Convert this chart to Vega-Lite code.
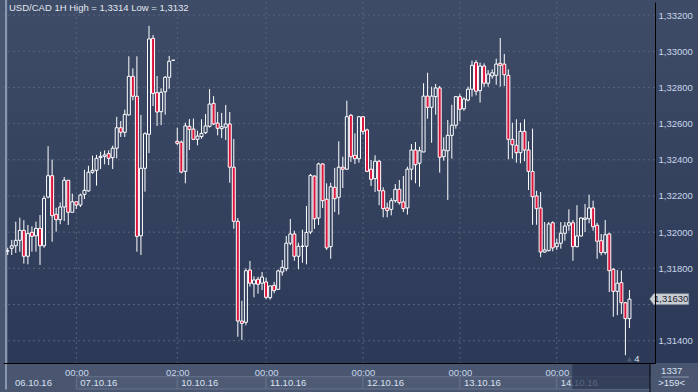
{
  "$schema": "https://vega.github.io/schema/vega-lite/v6.json",
  "width": 652,
  "height": 361,
  "autosize": {"type": "none"},
  "padding": {"left": 3, "top": 2, "right": 43, "bottom": 29},
  "background": "#4a5670",
  "datasets": {
    "candles": [
      {"i":1,"o":1.31896,"h":1.31914,"l":1.31874,"c":1.31896},
      {"i":2,"o":1.31911,"h":1.31957,"l":1.31874,"c":1.31925},
      {"i":3,"o":1.31925,"h":1.32058,"l":1.31885,"c":1.31955},
      {"i":4,"o":1.31955,"h":1.32080,"l":1.31892,"c":1.32010},
      {"i":5,"o":1.32010,"h":1.32066,"l":1.31826,"c":1.31867},
      {"i":6,"o":1.31867,"h":1.32040,"l":1.31822,"c":1.31992},
      {"i":7,"o":1.31999,"h":1.32032,"l":1.31892,"c":1.31977},
      {"i":8,"o":1.31980,"h":1.32058,"l":1.31892,"c":1.32021},
      {"i":9,"o":1.32021,"h":1.32095,"l":1.31819,"c":1.31925},
      {"i":10,"o":1.31925,"h":1.32202,"l":1.31914,"c":1.32187},
      {"i":11,"o":1.32194,"h":1.32475,"l":1.32187,"c":1.32312},
      {"i":12,"o":1.32312,"h":1.32401,"l":1.31947,"c":1.32091},
      {"i":13,"o":1.32099,"h":1.32135,"l":1.32003,"c":1.32069},
      {"i":14,"o":1.32069,"h":1.32165,"l":1.32044,"c":1.32139},
      {"i":15,"o":1.32139,"h":1.32305,"l":1.32062,"c":1.32287},
      {"i":16,"o":1.32287,"h":1.32287,"l":1.32040,"c":1.32110},
      {"i":17,"o":1.32110,"h":1.32213,"l":1.32110,"c":1.32168},
      {"i":18,"o":1.32168,"h":1.32168,"l":1.32128,"c":1.32150},
      {"i":19,"o":1.32150,"h":1.32213,"l":1.32139,"c":1.32205},
      {"i":20,"o":1.32209,"h":1.32345,"l":1.32183,"c":1.32231},
      {"i":21,"o":1.32228,"h":1.32367,"l":1.32224,"c":1.32331},
      {"i":22,"o":1.32331,"h":1.32423,"l":1.32323,"c":1.32342},
      {"i":23,"o":1.32342,"h":1.32427,"l":1.32257,"c":1.32408},
      {"i":24,"o":1.32412,"h":1.32445,"l":1.32349,"c":1.32419},
      {"i":25,"o":1.32419,"h":1.32452,"l":1.32375,"c":1.32427},
      {"i":26,"o":1.32434,"h":1.32452,"l":1.32371,"c":1.32408},
      {"i":27,"o":1.32412,"h":1.32478,"l":1.32349,"c":1.32464},
      {"i":28,"o":1.32464,"h":1.32637,"l":1.32408,"c":1.32577},
      {"i":29,"o":1.32577,"h":1.32614,"l":1.32526,"c":1.32552},
      {"i":30,"o":1.32552,"h":1.32677,"l":1.32526,"c":1.32651},
      {"i":31,"o":1.32648,"h":1.32972,"l":1.32644,"c":1.32861},
      {"i":32,"o":1.32861,"h":1.32906,"l":1.32729,"c":1.32751},
      {"i":33,"o":1.32751,"h":1.32972,"l":1.31892,"c":1.31977},
      {"i":34,"o":1.31980,"h":1.32648,"l":1.31874,"c":1.32353},
      {"i":35,"o":1.32353,"h":1.32552,"l":1.32224,"c":1.32544},
      {"i":36,"o":1.32541,"h":1.33140,"l":1.32437,"c":1.33068},
      {"i":37,"o":1.33071,"h":1.33090,"l":1.32697,"c":1.32767},
      {"i":38,"o":1.32771,"h":1.32863,"l":1.32587,"c":1.32664},
      {"i":39,"o":1.32666,"h":1.32795,"l":1.32592,"c":1.32773},
      {"i":40,"o":1.32776,"h":1.32863,"l":1.32649,"c":1.32856},
      {"i":41,"o":1.32856,"h":1.32974,"l":1.32793,"c":1.32944},
      {"i":42,"o":1.32950,"h":1.32950,"l":1.32950,"c":1.32950},
      {"i":43,"o":1.32502,"h":1.32577,"l":1.32480,"c":1.32491},
      {"i":44,"o":1.32498,"h":1.32506,"l":1.32325,"c":1.32332},
      {"i":45,"o":1.32336,"h":1.32605,"l":1.32270,"c":1.32587},
      {"i":46,"o":1.32585,"h":1.32625,"l":1.32454,"c":1.32568},
      {"i":47,"o":1.32570,"h":1.32628,"l":1.32509,"c":1.32513},
      {"i":48,"o":1.32513,"h":1.32561,"l":1.32480,"c":1.32531},
      {"i":49,"o":1.32528,"h":1.32624,"l":1.32516,"c":1.32546},
      {"i":50,"o":1.32550,"h":1.32653,"l":1.32542,"c":1.32587},
      {"i":51,"o":1.32585,"h":1.32791,"l":1.32578,"c":1.32708},
      {"i":52,"o":1.32712,"h":1.32752,"l":1.32592,"c":1.32598},
      {"i":53,"o":1.32603,"h":1.32664,"l":1.32535,"c":1.32574},
      {"i":54,"o":1.32572,"h":1.32659,"l":1.32520,"c":1.32583},
      {"i":55,"o":1.32580,"h":1.32703,"l":1.32509,"c":1.32598},
      {"i":56,"o":1.32598,"h":1.32664,"l":1.32273,"c":1.32359},
      {"i":57,"o":1.32359,"h":1.32515,"l":1.32019,"c":1.32060},
      {"i":58,"o":1.32060,"h":1.32078,"l":1.31422,"c":1.31509},
      {"i":59,"o":1.31509,"h":1.31621,"l":1.31404,"c":1.31496},
      {"i":60,"o":1.31502,"h":1.31800,"l":1.31485,"c":1.31787},
      {"i":61,"o":1.31791,"h":1.31841,"l":1.31699,"c":1.31718},
      {"i":62,"o":1.31714,"h":1.31756,"l":1.31640,"c":1.31736},
      {"i":63,"o":1.31740,"h":1.31754,"l":1.31660,"c":1.31712},
      {"i":64,"o":1.31718,"h":1.31780,"l":1.31680,"c":1.31752},
      {"i":65,"o":1.31725,"h":1.31748,"l":1.31629,"c":1.31640},
      {"i":66,"o":1.31638,"h":1.31703,"l":1.31627,"c":1.31703},
      {"i":67,"o":1.31706,"h":1.31725,"l":1.31662,"c":1.31677},
      {"i":68,"o":1.31684,"h":1.31793,"l":1.31682,"c":1.31786},
      {"i":69,"o":1.31780,"h":1.31846,"l":1.31760,"c":1.31806},
      {"i":70,"o":1.31798,"h":1.31979,"l":1.31784,"c":1.31939},
      {"i":71,"o":1.31939,"h":1.32073,"l":1.31928,"c":1.31990},
      {"i":72,"o":1.31990,"h":1.32008,"l":1.31842,"c":1.31867},
      {"i":73,"o":1.31867,"h":1.31942,"l":1.31795,"c":1.31922},
      {"i":74,"o":1.31922,"h":1.32014,"l":1.31831,"c":1.31922},
      {"i":75,"o":1.31922,"h":1.32145,"l":1.31822,"c":1.31999},
      {"i":76,"o":1.32001,"h":1.32322,"l":1.31990,"c":1.32314},
      {"i":77,"o":1.32310,"h":1.32314,"l":1.32018,"c":1.32074},
      {"i":78,"o":1.32078,"h":1.32384,"l":1.32040,"c":1.32377},
      {"i":79,"o":1.32377,"h":1.32381,"l":1.32134,"c":1.32174},
      {"i":80,"o":1.32182,"h":1.32270,"l":1.31902,"c":1.31913},
      {"i":81,"o":1.31920,"h":1.32273,"l":1.31853,"c":1.32251},
      {"i":82,"o":1.32248,"h":1.32355,"l":1.32111,"c":1.32185},
      {"i":83,"o":1.32193,"h":1.32502,"l":1.32097,"c":1.32359},
      {"i":84,"o":1.32359,"h":1.32417,"l":1.32244,"c":1.32348},
      {"i":85,"o":1.32348,"h":1.32727,"l":1.32344,"c":1.32638},
      {"i":86,"o":1.32646,"h":1.32653,"l":1.32388,"c":1.32417},
      {"i":87,"o":1.32425,"h":1.32546,"l":1.32377,"c":1.32406},
      {"i":88,"o":1.32406,"h":1.32642,"l":1.32384,"c":1.32638},
      {"i":89,"o":1.32638,"h":1.32642,"l":1.32539,"c":1.32557},
      {"i":90,"o":1.32565,"h":1.32572,"l":1.32332,"c":1.32336},
      {"i":91,"o":1.32348,"h":1.32399,"l":1.32255,"c":1.32292},
      {"i":92,"o":1.32296,"h":1.32425,"l":1.32222,"c":1.32392},
      {"i":93,"o":1.32392,"h":1.32399,"l":1.32149,"c":1.32229},
      {"i":94,"o":1.32229,"h":1.32248,"l":1.32082,"c":1.32130},
      {"i":95,"o":1.32134,"h":1.32163,"l":1.32082,"c":1.32119},
      {"i":96,"o":1.32126,"h":1.32189,"l":1.32093,"c":1.32174},
      {"i":97,"o":1.32174,"h":1.32266,"l":1.32163,"c":1.32237},
      {"i":98,"o":1.32237,"h":1.32288,"l":1.32152,"c":1.32163},
      {"i":99,"o":1.32167,"h":1.32310,"l":1.32111,"c":1.32130},
      {"i":100,"o":1.32134,"h":1.32362,"l":1.32097,"c":1.32348},
      {"i":101,"o":1.32348,"h":1.32487,"l":1.32288,"c":1.32454},
      {"i":102,"o":1.32454,"h":1.32498,"l":1.32270,"c":1.32373},
      {"i":103,"o":1.32381,"h":1.32472,"l":1.32251,"c":1.32450},
      {"i":104,"o":1.32443,"h":1.32823,"l":1.32443,"c":1.32752},
      {"i":105,"o":1.32752,"h":1.32881,"l":1.32627,"c":1.32690},
      {"i":106,"o":1.32690,"h":1.32804,"l":1.32494,"c":1.32752},
      {"i":107,"o":1.32749,"h":1.32819,"l":1.32649,"c":1.32797},
      {"i":108,"o":1.32797,"h":1.32808,"l":1.32329,"c":1.32414},
      {"i":109,"o":1.32417,"h":1.32524,"l":1.32395,"c":1.32454},
      {"i":110,"o":1.32450,"h":1.32620,"l":1.32178,"c":1.32535},
      {"i":111,"o":1.32535,"h":1.32704,"l":1.32406,"c":1.32591},
      {"i":112,"o":1.32591,"h":1.32752,"l":1.32572,"c":1.32749},
      {"i":113,"o":1.32749,"h":1.32764,"l":1.32613,"c":1.32679},
      {"i":114,"o":1.32682,"h":1.32745,"l":1.32671,"c":1.32736},
      {"i":115,"o":1.32730,"h":1.32804,"l":1.32723,"c":1.32790},
      {"i":116,"o":1.32790,"h":1.32948,"l":1.32749,"c":1.32922},
      {"i":117,"o":1.32937,"h":1.32951,"l":1.32756,"c":1.32779},
      {"i":118,"o":1.32782,"h":1.32937,"l":1.32716,"c":1.32918},
      {"i":119,"o":1.32918,"h":1.32933,"l":1.32804,"c":1.32823},
      {"i":120,"o":1.32823,"h":1.32896,"l":1.32804,"c":1.32874},
      {"i":121,"o":1.32863,"h":1.32900,"l":1.32848,"c":1.32881},
      {"i":122,"o":1.32867,"h":1.32959,"l":1.32815,"c":1.32929},
      {"i":123,"o":1.32933,"h":1.33073,"l":1.32804,"c":1.32922},
      {"i":124,"o":1.32929,"h":1.32985,"l":1.32808,"c":1.32870},
      {"i":125,"o":1.32867,"h":1.32900,"l":1.32403,"c":1.32513},
      {"i":126,"o":1.32513,"h":1.32605,"l":1.32406,"c":1.32483},
      {"i":127,"o":1.32480,"h":1.32624,"l":1.32384,"c":1.32439},
      {"i":128,"o":1.32439,"h":1.32605,"l":1.32381,"c":1.32557},
      {"i":129,"o":1.32557,"h":1.32624,"l":1.32392,"c":1.32454},
      {"i":130,"o":1.32454,"h":1.32502,"l":1.32233,"c":1.32336},
      {"i":131,"o":1.32336,"h":1.32572,"l":1.32041,"c":1.32196},
      {"i":132,"o":1.32200,"h":1.32229,"l":1.32041,"c":1.32130},
      {"i":133,"o":1.32134,"h":1.32222,"l":1.31861,"c":1.31890},
      {"i":134,"o":1.31890,"h":1.32056,"l":1.31887,"c":1.31902},
      {"i":135,"o":1.31898,"h":1.32056,"l":1.31894,"c":1.32045},
      {"i":136,"o":1.32052,"h":1.32060,"l":1.31894,"c":1.31913},
      {"i":137,"o":1.31920,"h":1.31964,"l":1.31902,"c":1.31939},
      {"i":138,"o":1.31939,"h":1.32056,"l":1.31909,"c":1.31994},
      {"i":139,"o":1.31994,"h":1.32056,"l":1.31953,"c":1.32034},
      {"i":140,"o":1.32038,"h":1.32126,"l":1.32008,"c":1.32052},
      {"i":141,"o":1.32052,"h":1.32067,"l":1.31842,"c":1.31920},
      {"i":142,"o":1.31920,"h":1.32149,"l":1.31916,"c":1.31979},
      {"i":143,"o":1.31979,"h":1.32082,"l":1.31975,"c":1.32078},
      {"i":144,"o":1.32071,"h":1.32156,"l":1.32001,"c":1.32078},
      {"i":145,"o":1.32074,"h":1.32207,"l":1.32049,"c":1.32134},
      {"i":146,"o":1.32134,"h":1.32174,"l":1.32008,"c":1.32030},
      {"i":147,"o":1.32038,"h":1.32052,"l":1.31853,"c":1.31950},
      {"i":148,"o":1.31953,"h":1.31990,"l":1.31872,"c":1.31887},
      {"i":149,"o":1.31887,"h":1.32067,"l":1.31876,"c":1.31986},
      {"i":150,"o":1.31990,"h":1.31997,"l":1.31669,"c":1.31787},
      {"i":151,"o":1.31795,"h":1.31802,"l":1.31533,"c":1.31673},
      {"i":152,"o":1.31673,"h":1.31791,"l":1.31541,"c":1.31718},
      {"i":153,"o":1.31721,"h":1.31787,"l":1.31548,"c":1.31610},
      {"i":154,"o":1.31610,"h":1.31614,"l":1.31320,"c":1.31522},
      {"i":155,"o":1.31522,"h":1.31680,"l":1.31470,"c":1.31630}
    ],
    "ygrid": [{"v":1.314},{"v":1.316},{"v":1.318},{"v":1.320},{"v":1.322},{"v":1.324},{"v":1.326},{"v":1.328},{"v":1.330},{"v":1.332}],
    "xgrid": [{"i":18},{"i":43},{"i":65},{"i":89},{"i":113},{"i":137}],
    "days": [
      {"d":"06.10.16","s":1.8,"e":18},
      {"d":"07.10.16","s":18,"e":43},
      {"d":"10.10.16","s":43,"e":65},
      {"d":"11.10.16","s":65,"e":89},
      {"d":"12.10.16","s":89,"e":113},
      {"d":"13.10.16","s":113,"e":137},
      {"d":"14.10.16","s":137,"e":160.09}
    ],
    "tag": [{"p":1.3163,"t":"1,31630"}],
    "one": [{}]
  },
  "layer": [
    {
      "data": {"name": "one"},
      "mark": {"type": "rect", "color": {"gradient": "linear", "x1": 0, "y1": 0, "x2": 0, "y2": 1, "stops": [{"offset": 0, "color": "#3f4c67"}, {"offset": 1, "color": "#2c3957"}]}},
      "encoding": {
        "x": {"datum": 1.073, "type": "quantitative", "scale": {"domain": [1.073, 160.09], "nice": false, "zero": false},
          "axis": {"values": [18, 43, 65, 89, 113, 137], "labelExpr": "datum.value == 43 ? '02:00' : '00:00'", "grid": false, "ticks": false, "domain": true, "domainColor": "#000000", "domainWidth": 1, "labelColor": "#c8d6ec", "labelFont": "Liberation Sans", "labelFontSize": 9.5, "labelPadding": 4, "labelBaseline": "top", "labelFlush": false, "labelOverlap": false, "title": null, "zindex": 1}},
        "x2": {"datum": 176},
        "y": {"datum": 1.31277, "type": "quantitative", "scale": {"domain": [1.31277, 1.33272], "nice": false, "zero": false},
          "axis": {"orient": "right", "values": [1.314, 1.316, 1.318, 1.32, 1.322, 1.324, 1.326, 1.328, 1.33, 1.332], "labelExpr": "abs(datum.value - 1.316) < 0.0001 ? '' : replace(format(datum.value, '.5f'), '.', ',')", "grid": false, "ticks": false, "domain": true, "domainColor": "#000000", "domainWidth": 1, "labelColor": "#c8d6ec", "labelFont": "Liberation Sans", "labelFontSize": 9.5, "labelPadding": 3, "labelAlign": "left", "labelBaseline": "middle", "labelFlush": false, "labelOverlap": false, "title": null, "zindex": 1}},
        "y2": {"datum": 1.3331}
      }
    },
    {
      "data": {"name": "one"},
      "mark": {"type": "rect", "color": "#8a99b2"},
      "encoding": {
        "x": {"datum": 0.34, "type": "quantitative", "scale": {"domain": [1.073, 160.09], "nice": false, "zero": false}},
        "x2": {"datum": 0.83},
        "y": {"datum": 1.3113, "type": "quantitative", "scale": {"domain": [1.31277, 1.33272], "nice": false, "zero": false}},
        "y2": {"datum": 1.3331}
      }
    },
    {
      "data": {"name": "ygrid"},
      "mark": {"type": "rule", "color": "#56637e", "strokeWidth": 1, "strokeDash": [2, 3]},
      "encoding": {
        "y": {"field": "v", "type": "quantitative", "title": null, "scale": {"domain": [1.31277, 1.33272], "nice": false, "zero": false}}
      }
    },
    {
      "data": {"name": "xgrid"},
      "mark": {"type": "rule", "color": "#56637e", "strokeWidth": 1, "strokeDash": [2, 3]},
      "encoding": {
        "x": {"field": "i", "type": "quantitative", "title": null, "scale": {"domain": [1.073, 160.09], "nice": false, "zero": false}}
      }
    },
    {
      "data": {"name": "days"},
      "transform": [{"filter": "datum.s > 2"}],
      "mark": {"type": "rect", "fill": "#4f5b75", "stroke": "#66728b", "strokeWidth": 1},
      "encoding": {
        "x": {"field": "s", "type": "quantitative", "title": null, "scale": {"domain": [1.073, 160.09], "nice": false, "zero": false}},
        "x2": {"field": "e", "offset": -4},
        "y": {"datum": 1.312012, "type": "quantitative", "scale": {"domain": [1.31277, 1.33272], "nice": false, "zero": false}},
        "y2": {"datum": 1.311332}
      }
    },
    {
      "data": {"name": "days"},
      "mark": {"type": "text", "align": "left", "baseline": "middle", "dx": 4, "fontSize": 9.5, "font": "Liberation Sans", "color": "#d8e2f0"},
      "encoding": {
        "x": {"field": "s", "type": "quantitative", "title": null, "scale": {"domain": [1.073, 160.09], "nice": false, "zero": false}},
        "y": {"datum": 1.311691, "type": "quantitative", "scale": {"domain": [1.31277, 1.33272], "nice": false, "zero": false}},
        "text": {"field": "d"}
      }
    },
    {
      "data": {"name": "one"},
      "mark": {"type": "rect", "color": "#2a3450", "opacity": 0.72},
      "encoding": {
        "x": {"datum": 140.83, "type": "quantitative", "scale": {"domain": [1.073, 160.09], "nice": false, "zero": false}},
        "x2": {"datum": 160.09},
        "y": {"datum": 1.31277, "type": "quantitative", "scale": {"domain": [1.31277, 1.33272], "nice": false, "zero": false}},
        "y2": {"datum": 1.311332}
      }
    },
    {
      "data": {"name": "one"},
      "mark": {"type": "rule", "color": "#000000", "strokeWidth": 1},
      "encoding": {
        "x": {"datum": 160.09, "type": "quantitative", "scale": {"domain": [1.073, 160.09], "nice": false, "zero": false}},
        "y": {"datum": 1.31277, "type": "quantitative", "scale": {"domain": [1.31277, 1.33272], "nice": false, "zero": false}},
        "y2": {"datum": 1.3110}
      }
    },
    {
      "data": {"name": "candles"},
      "mark": {"type": "rule", "color": "#ffffff", "strokeWidth": 1},
      "encoding": {
        "x": {"field": "i", "type": "quantitative", "title": null, "scale": {"domain": [1.073, 160.09], "nice": false, "zero": false}},
        "y": {"field": "h", "type": "quantitative", "title": null, "scale": {"domain": [1.31277, 1.33272], "nice": false, "zero": false}},
        "y2": {"field": "l"}
      }
    },
    {
      "data": {"name": "candles"},
      "mark": {"type": "bar", "width": 3, "stroke": "#ffffff", "strokeWidth": 1},
      "encoding": {
        "x": {"field": "i", "type": "quantitative", "title": null, "scale": {"domain": [1.073, 160.09], "nice": false, "zero": false}},
        "y": {"field": "o", "type": "quantitative", "title": null, "scale": {"domain": [1.31277, 1.33272], "nice": false, "zero": false}},
        "y2": {"field": "c"},
        "fill": {"condition": {"test": "datum.c < datum.o", "value": "#dc143c"}, "value": "#34415e"}
      }
    },
    {
      "data": {"name": "tag"},
      "mark": {"type": "point", "shape": "M-1.229,0L-1,-0.314L1,-0.314L1,0.314L-1,0.314Z", "size": 1225, "filled": true, "fill": "#c9cdd4", "opacity": 1, "stroke": "#8c95a5", "strokeWidth": 0.5},
      "encoding": {
        "x": {"datum": 165.34, "type": "quantitative", "scale": {"domain": [1.073, 160.09], "nice": false, "zero": false}},
        "y": {"field": "p", "type": "quantitative", "title": null, "scale": {"domain": [1.31277, 1.33272], "nice": false, "zero": false}}
      }
    },
    {
      "data": {"name": "tag"},
      "mark": {"type": "text", "align": "center", "baseline": "middle", "fontSize": 9.5, "font": "Liberation Sans", "color": "#1c2230"},
      "encoding": {
        "x": {"datum": 165.34, "type": "quantitative", "scale": {"domain": [1.073, 160.09], "nice": false, "zero": false}},
        "y": {"field": "p", "type": "quantitative", "title": null, "scale": {"domain": [1.31277, 1.33272], "nice": false, "zero": false}},
        "text": {"field": "t"}
      }
    },
    {
      "data": {"name": "one"},
      "mark": {"type": "text", "text": "USD/CAD 1H High = 1,3314 Low = 1,3132", "align": "left", "baseline": "alphabetic", "fontSize": 9.5, "font": "Liberation Sans", "color": "#e2e8f0"},
      "encoding": {
        "x": {"datum": 1.317, "type": "quantitative", "scale": {"domain": [1.073, 160.09], "nice": false, "zero": false}},
        "y": {"datum": 1.332221, "type": "quantitative", "scale": {"domain": [1.31277, 1.33272], "nice": false, "zero": false}}
      }
    },
    {
      "data": {"name": "one"},
      "mark": {"type": "text", "text": "1337", "align": "center", "baseline": "middle", "fontSize": 9.5, "font": "Liberation Sans", "color": "#d8e2f0"},
      "encoding": {
        "x": {"datum": 165.46, "type": "quantitative", "scale": {"domain": [1.073, 160.09], "nice": false, "zero": false}},
        "y": {"datum": 1.312344, "type": "quantitative", "scale": {"domain": [1.31277, 1.33272], "nice": false, "zero": false}}
      }
    },
    {
      "data": {"name": "one"},
      "mark": {"type": "text", "text": ">159<", "align": "center", "baseline": "middle", "fontSize": 9.5, "font": "Liberation Sans", "color": "#d8e2f0"},
      "encoding": {
        "x": {"datum": 165.46, "type": "quantitative", "scale": {"domain": [1.073, 160.09], "nice": false, "zero": false}},
        "y": {"datum": 1.311647, "type": "quantitative", "scale": {"domain": [1.31277, 1.33272], "nice": false, "zero": false}}
      }
    },
    {
      "data": {"name": "one"},
      "mark": {"type": "rule", "color": "#8f9ab0", "strokeWidth": 1},
      "encoding": {
        "x": {"datum": 163.0, "type": "quantitative", "scale": {"domain": [1.073, 160.09], "nice": false, "zero": false}},
        "x2": {"datum": 169.7},
        "y": {"datum": 1.311995, "type": "quantitative", "scale": {"domain": [1.31277, 1.33272], "nice": false, "zero": false}}
      }
    },
    {
      "data": {"name": "one"},
      "mark": {"type": "point", "shape": "triangle-up", "size": 30, "filled": true, "color": "#4e5870", "opacity": 1},
      "encoding": {
        "x": {"datum": 155, "type": "quantitative", "scale": {"domain": [1.073, 160.09], "nice": false, "zero": false}},
        "y": {"datum": 1.31299, "type": "quantitative", "scale": {"domain": [1.31277, 1.33272], "nice": false, "zero": false}}
      }
    },
    {
      "data": {"name": "one"},
      "mark": {"type": "text", "text": "4", "align": "center", "baseline": "middle", "fontSize": 9.5, "font": "Liberation Sans", "color": "#d8e2f0"},
      "encoding": {
        "x": {"datum": 156.85, "type": "quantitative", "scale": {"domain": [1.073, 160.09], "nice": false, "zero": false}},
        "y": {"datum": 1.31301, "type": "quantitative", "scale": {"domain": [1.31277, 1.33272], "nice": false, "zero": false}}
      }
    }
  ],
  "config": {
    "view": {"stroke": null},
    "axis": {"labelFont": "Liberation Sans"},
    "text": {"font": "Liberation Sans"}
  }
}
